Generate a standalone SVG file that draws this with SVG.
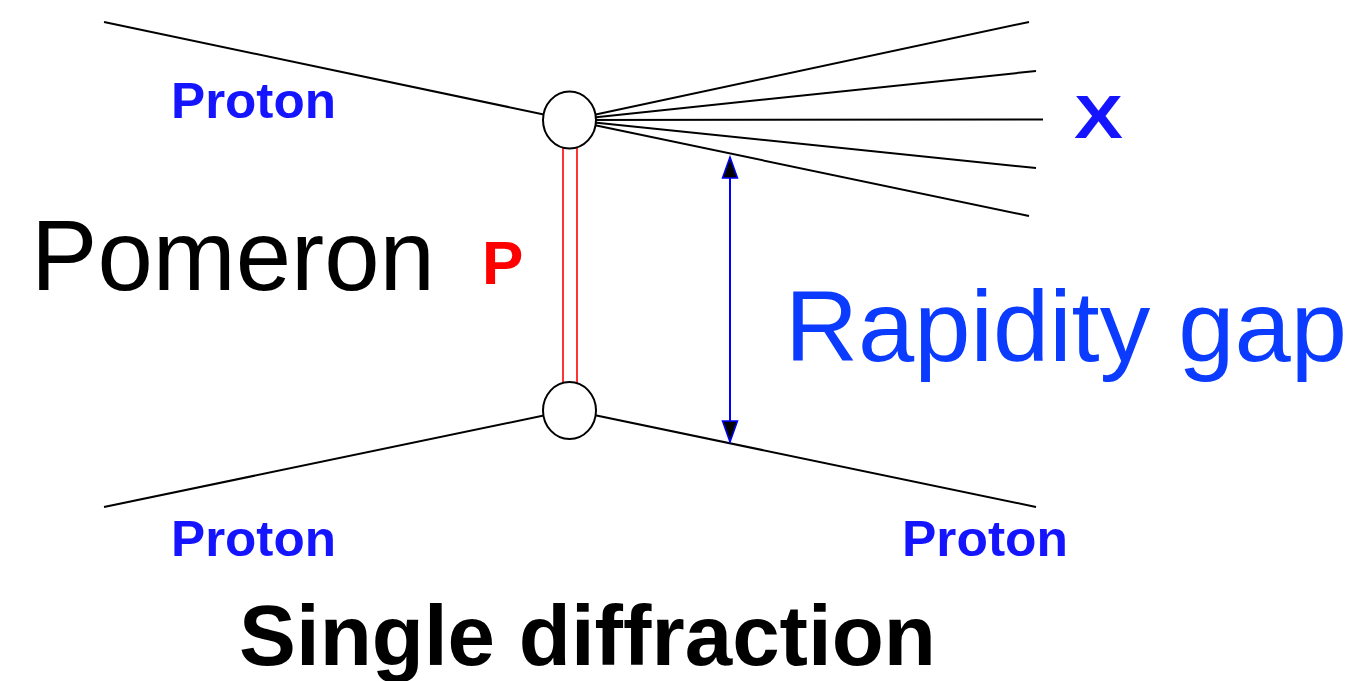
<svg xmlns="http://www.w3.org/2000/svg" width="1353" height="681" viewBox="0 0 1353 681">
<style>
.ln{stroke:#000;stroke-width:2;fill:none}
.vtx{fill:#fff;stroke:#000;stroke-width:2}
.pom{stroke:#ff0000;stroke-width:1.6;fill:none}
.gap{stroke:#0000ff;stroke-width:2;fill:none}
.b{font-family:"Liberation Sans",Arial,sans-serif;font-weight:bold}
.r{font-family:"Liberation Sans",Arial,sans-serif}
.blue{fill:#1414ff}
</style>
<defs>
<marker id="ah" viewBox="0 0 24 18" refX="22" refY="9" markerWidth="24" markerHeight="18" markerUnits="userSpaceOnUse" orient="auto-start-reverse">
<path d="M1,1.5 L22,9 L1,16.5 Z" fill="#000" stroke="#0000ff" stroke-width="1.5"/>
</marker>
</defs>
<rect width="1353" height="681" fill="#fff"/>
<g id="connectors">
<line class="ln" x1="104" y1="22" x2="570" y2="120"/>
<line class="ln" x1="570" y1="120" x2="1029" y2="22"/>
<line class="ln" x1="570" y1="120" x2="1036" y2="71"/>
<line class="ln" x1="570" y1="120" x2="1043" y2="119.5"/>
<line class="ln" x1="570" y1="120" x2="1036" y2="168"/>
<line class="ln" x1="570" y1="120" x2="1029" y2="216"/>
<line class="ln" x1="104" y1="507" x2="570" y2="410"/>
<line class="ln" x1="570" y1="410" x2="1036" y2="507"/>
<line class="pom" x1="563" y1="148" x2="563" y2="383"/>
<line class="pom" x1="577" y1="148" x2="577" y2="383"/>
<line class="gap" x1="730" y1="157" x2="730" y2="442" marker-start="url(#ah)" marker-end="url(#ah)"/>
</g>
<g id="vertex-top"><ellipse class="vtx" cx="569.5" cy="120" rx="26.5" ry="28.5"/></g>
<g id="vertex-bottom"><ellipse class="vtx" cx="569.5" cy="410.5" rx="26.5" ry="28.5"/></g>
<g id="labels">
<text class="b blue" x="171" y="118" font-size="50" textLength="165" lengthAdjust="spacingAndGlyphs">Proton</text>
<text class="b blue" x="171" y="556" font-size="50" textLength="165" lengthAdjust="spacingAndGlyphs">Proton</text>
<text class="b blue" x="902" y="556" font-size="50" textLength="166" lengthAdjust="spacingAndGlyphs">Proton</text>
<text class="b blue" x="1074" y="138" font-size="62" textLength="49" lengthAdjust="spacingAndGlyphs">X</text>
<text class="r" x="31" y="290" font-size="101" fill="#000" textLength="404" lengthAdjust="spacingAndGlyphs">Pomeron</text>
<text class="b" x="482" y="284" font-size="62" fill="#ff0000">P</text>
<text class="r" x="785" y="361" font-size="101" fill="#0a3bff" textLength="562" lengthAdjust="spacingAndGlyphs">Rapidity gap</text>
<text class="b" x="239" y="665" font-size="86" fill="#000" textLength="697" lengthAdjust="spacingAndGlyphs">Single diffraction</text>
</g>
</svg>
